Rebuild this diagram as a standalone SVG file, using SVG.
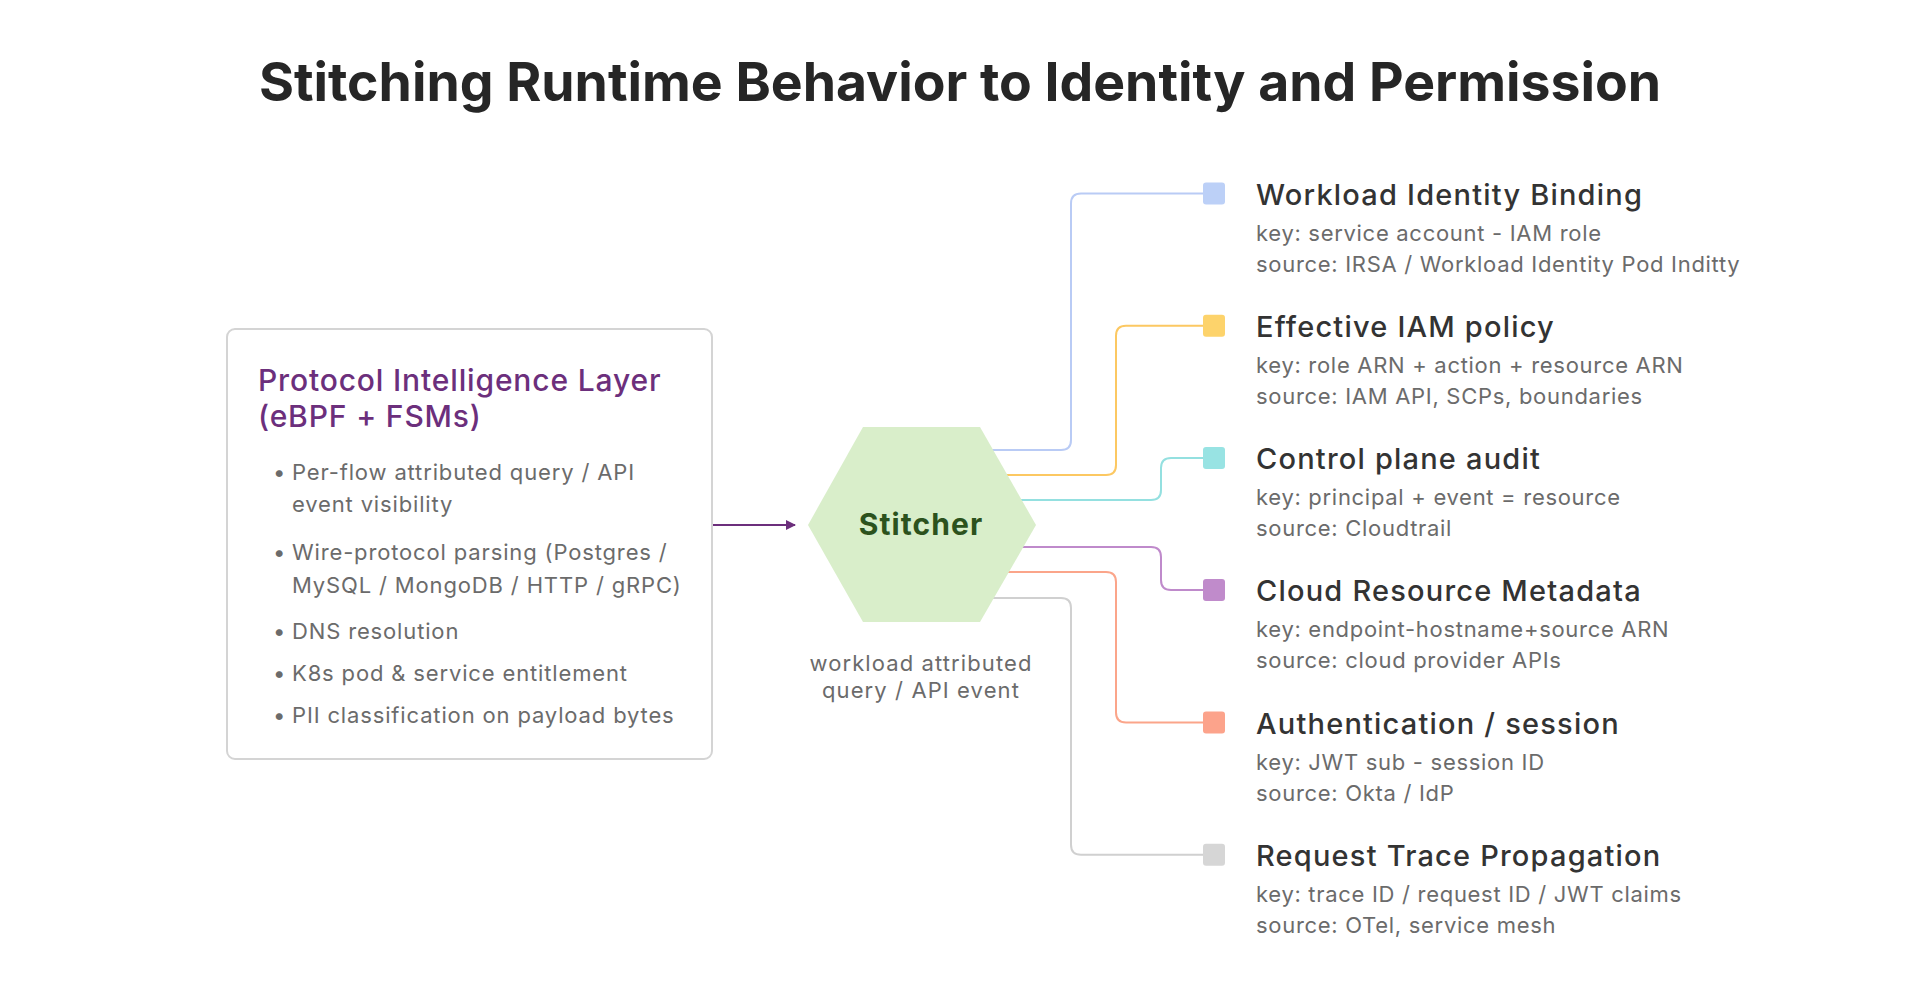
<svg xmlns="http://www.w3.org/2000/svg" width="1920" height="985" viewBox="0 0 1920 985">
<defs>
<style>
text{font-family:Inter,"Noto Sans","Liberation Sans",sans-serif;}
.title{font-size:53.5px;font-weight:700;fill:#262626;}
.ptitle{font-size:30px;font-weight:500;fill:#6c2f7c;letter-spacing:0.85px;}
.bul{font-size:22px;fill:#6b6b6b;letter-spacing:0.85px;}
.cap{font-size:22px;fill:#6b6b6b;letter-spacing:1.1px;}
.h{font-size:29px;font-weight:500;fill:#333;letter-spacing:1.2px;}
.s{font-size:22px;fill:#6b6b6b;letter-spacing:0.7px;}
.ln{fill:none;stroke-width:2;}
</style>
<marker id="ah" viewBox="0 0 10 10" refX="9" refY="5" markerWidth="10" markerHeight="10" markerUnits="userSpaceOnUse" orient="auto">
<path d="M0,0 L10,5 L0,10 z" fill="#6c2f7c"/>
</marker>
</defs>
<rect width="1920" height="985" fill="#fff"/>
<text class="title" x="960" y="101" text-anchor="middle">Stitching Runtime Behavior to Identity and Permission</text>

<g id="connectors">
<path class="ln" stroke="#6c2f7c" d="M713,525 H795" marker-end="url(#ah)"/>
<path class="ln" stroke="#b9cbf5" d="M960,450 H1061 Q1071,450 1071,440 V203.5 Q1071,193.5 1081,193.5 H1206"/>
<path class="ln" stroke="#fcc862" d="M960,475 H1106 Q1116,475 1116,465 V335.7 Q1116,325.7 1126,325.7 H1206"/>
<path class="ln" stroke="#94e0e0" d="M960,500 H1151 Q1161,500 1161,490 V468 Q1161,458 1171,458 H1206"/>
<path class="ln" stroke="#bf8acb" d="M960,547 H1151 Q1161,547 1161,557 V580 Q1161,590 1171,590 H1206"/>
<path class="ln" stroke="#fba58a" d="M960,572 H1106 Q1116,572 1116,582 V712.5 Q1116,722.5 1126,722.5 H1206"/>
<path class="ln" stroke="#d0d0d0" d="M960,598 H1061 Q1071,598 1071,608 V844.7 Q1071,854.7 1081,854.7 H1206"/>
</g>

<g id="protocol-layer">
<rect x="227" y="329" width="485" height="430" rx="8" fill="#fff" stroke="#d4d4d4" stroke-width="2"/>
<text class="ptitle" x="258" y="391">Protocol Intelligence Layer</text>
<text class="ptitle" x="258" y="427">(eBPF + FSMs)</text>
<g class="bul">
<text x="273" y="480">•</text><text x="292" y="480">Per-flow attributed query / API</text>
<text x="292" y="512">event visibility</text>
<text x="273" y="560">•</text><text x="292" y="560">Wire-protocol parsing (Postgres /</text>
<text x="292" y="593">MySQL / MongoDB / HTTP / gRPC)</text>
<text x="273" y="639">•</text><text x="292" y="639">DNS resolution</text>
<text x="273" y="681">•</text><text x="292" y="681">K8s pod &amp; service entitlement</text>
<text x="273" y="723">•</text><text x="292" y="723">PII classification on payload bytes</text>
</g>
</g>

<g id="stitcher">
<polygon points="808,525 863,427 980,427 1036,525 980,622 863,622" fill="#d9eeca"/>
<text x="921" y="535" text-anchor="middle" font-size="30" font-weight="700" letter-spacing="1.1" fill="#2c521d">Stitcher</text>
<text class="cap" x="921" y="671" text-anchor="middle">workload attributed</text>
<text class="cap" x="921" y="698" text-anchor="middle">query / API event</text>
</g>

<g id="workload-identity">
<rect x="1203" y="182.5" width="22" height="22" rx="3" fill="#bcd0f7"/>
<text class="h" x="1256" y="204.5">Workload Identity Binding</text>
<text class="s" x="1256" y="240.5">key: service account - IAM role</text>
<text class="s" x="1256" y="271.5">source: IRSA / Workload Identity Pod Inditty</text>
</g>
<g id="effective-iam">
<rect x="1203" y="314.7" width="22" height="22" rx="3" fill="#fdd36b"/>
<text class="h" x="1256" y="336.7">Effective IAM policy</text>
<text class="s" x="1256" y="372.7">key: role ARN + action + resource ARN</text>
<text class="s" x="1256" y="403.7">source: IAM API, SCPs, boundaries</text>
</g>
<g id="control-plane">
<rect x="1203" y="447" width="22" height="22" rx="3" fill="#98e3e3"/>
<text class="h" x="1256" y="469">Control plane audit</text>
<text class="s" x="1256" y="505">key: principal + event = resource</text>
<text class="s" x="1256" y="536">source: Cloudtrail</text>
</g>
<g id="cloud-resource">
<rect x="1203" y="579" width="22" height="22" rx="3" fill="#c08bcb"/>
<text class="h" x="1256" y="601">Cloud Resource Metadata</text>
<text class="s" x="1256" y="637">key: endpoint-hostname+source ARN</text>
<text class="s" x="1256" y="668">source: cloud provider APIs</text>
</g>
<g id="authentication">
<rect x="1203" y="711.5" width="22" height="22" rx="3" fill="#fca38b"/>
<text class="h" x="1256" y="733.5">Authentication / session</text>
<text class="s" x="1256" y="769.5">key: JWT sub - session ID</text>
<text class="s" x="1256" y="800.5">source: Okta / IdP</text>
</g>
<g id="request-trace">
<rect x="1203" y="843.7" width="22" height="22" rx="3" fill="#d6d6d6"/>
<text class="h" x="1256" y="865.7">Request Trace Propagation</text>
<text class="s" x="1256" y="901.7">key: trace ID / request ID / JWT claims</text>
<text class="s" x="1256" y="932.7">source: OTel, service mesh</text>
</g>
</svg>
